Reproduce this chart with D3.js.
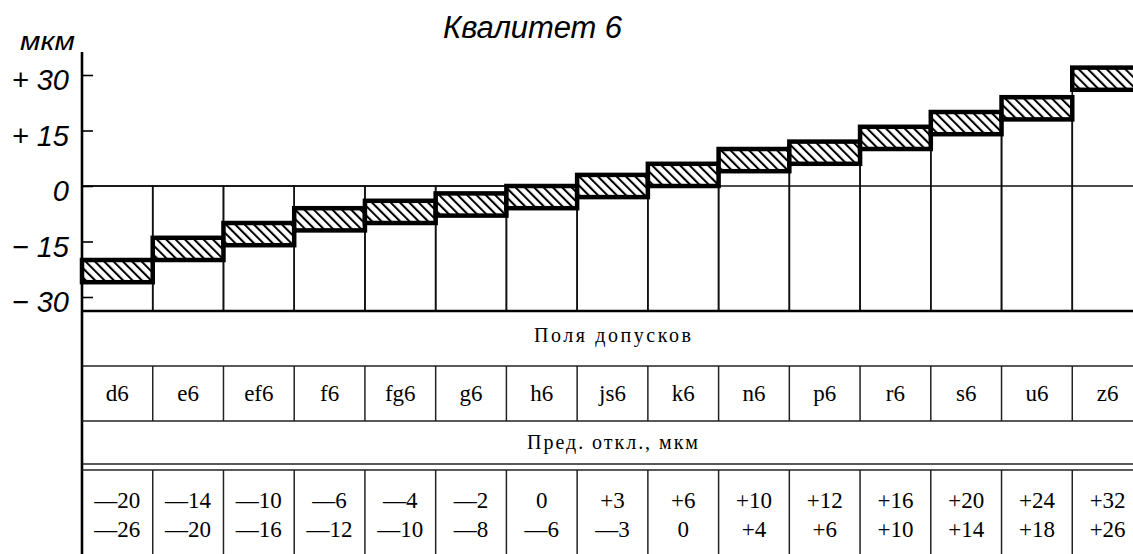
<!DOCTYPE html>
<html>
<head>
<meta charset="utf-8">
<script src="https://cdn.jsdelivr.net/npm/d3@7"></script>
<style>
  html, body { margin: 0; padding: 0; background: #fff; }
  svg { display: block; }
</style>
</head>
<body>
<svg id="chart" width="1133" height="554"></svg>
<script>
// ---------- data ----------
const categories = ["d6", "e6", "ef6", "f6", "fg6", "g6", "h6", "js6", "k6", "n6", "p6", "r6", "s6", "u6", "z6"];
const upperDev = [-20, -14, -10, -6, -4, -2, 0, 3, 6, 10, 12, 16, 20, 24, 32];
const lowerDev = [-26, -20, -16, -12, -10, -8, -6, -3, 0, 4, 6, 10, 14, 18, 26];
const yTicks = [-30, -15, 0, 15, 30];
const titleText = "Квалитет 6";
const unitText = "мкм";
const rowTitle1 = "Поля допусков";
const rowTitle2 = "Пред. откл., мкм";

// ---------- layout ----------
const W = 1133, H = 554;
const axisX = 82, axisTop = 52;
const chartBottom = 311;
const row1Bottom = 366, row2Bottom = 421, row3Bottom = 464, row3Double = 470;

const svg = d3.select("#chart");
svg.append("rect").attr("width", W).attr("height", H).attr("fill", "#fff");

const defs = svg.append("defs");
const pat = defs.append("pattern")
  .attr("id", "hatch")
  .attr("patternUnits", "userSpaceOnUse")
  .attr("width", 6.6).attr("height", 6.6)
  .attr("patternTransform", "rotate(-45)");
pat.append("rect").attr("width", 6.6).attr("height", 6.6).attr("fill", "#fff");
pat.append("line").attr("x1", 1).attr("y1", 0).attr("x2", 1).attr("y2", 6.6)
  .attr("stroke", "#000").attr("stroke-width", 2.1);

const x = d3.scaleBand().domain(categories).range([axisX, 1143]).paddingInner(0).paddingOuter(0);
const y = d3.scaleLinear().domain([-30, 30]).range([297, 75]);

const rows = categories.map((c, i) => ({ c, up: upperDev[i], lo: lowerDev[i] }));

// column thin frames (vertical lines under bars)
svg.append("g").selectAll("rect").data(rows).join("rect")
  .attr("x", d => x(d.c)).attr("width", x.bandwidth())
  .attr("y", d => y(Math.max(0, d.lo)))
  .attr("height", d => chartBottom - y(Math.max(0, d.lo)))
  .attr("fill", "none").attr("stroke", "#111").attr("stroke-width", 1.6);

// zero line
svg.append("line").attr("x1", axisX).attr("x2", W).attr("y1", y(0)).attr("y2", y(0))
  .attr("stroke", "#111").attr("stroke-width", 1.6);

// tolerance bars
svg.append("g").selectAll("rect").data(rows).join("rect")
  .attr("x", d => x(d.c)).attr("width", x.bandwidth())
  .attr("y", d => y(d.up)).attr("height", d => y(d.lo) - y(d.up))
  .attr("fill", "url(#hatch)").attr("stroke", "#000").attr("stroke-width", 4.5)
  .attr("stroke-linejoin", "miter");

// y axis
const fmtAxis = v => v > 0 ? "+ " + v : v < 0 ? "\u2212 " + Math.abs(v) : "0";
const axis = d3.axisLeft(y).tickValues(yTicks).tickSizeInner(-11).tickSizeOuter(0)
  .tickPadding(13).tickFormat(fmtAxis);
const gAxis = svg.append("g").attr("transform", `translate(${axisX},0)`).call(axis);
gAxis.select(".domain").remove();
gAxis.selectAll(".tick line").attr("stroke", "#000").attr("stroke-width", 1.6);
gAxis.selectAll(".tick text")
  .attr("fill", "#000")
  .attr("dy", "0.5em")
  .style("font-family", "'Liberation Sans', Arial, sans-serif")
  .style("font-style", "italic")
  .style("font-size", "29px");

svg.append("line").attr("x1", axisX).attr("x2", axisX).attr("y1", axisTop).attr("y2", H)
  .attr("stroke", "#000").attr("stroke-width", 2.6);

// unit label
svg.append("text").attr("x", 20).attr("y", 50).text(unitText)
  .attr("textLength", 55).attr("lengthAdjust", "spacingAndGlyphs")
  .style("font-family", "'Liberation Sans', Arial, sans-serif")
  .style("font-style", "italic").style("font-size", "26px");

// title
svg.append("text").attr("x", 443).attr("y", 38).text(titleText)
  .attr("textLength", 179).attr("lengthAdjust", "spacing")
  .style("font-family", "'Liberation Sans', Arial, sans-serif")
  .style("font-style", "italic").style("font-size", "31px");

// chart bottom line
svg.append("line").attr("x1", axisX).attr("x2", W).attr("y1", chartBottom).attr("y2", chartBottom)
  .attr("stroke", "#000").attr("stroke-width", 2.6);

// ---------- table ----------
const tl = svg.append("g").attr("stroke", "#222").attr("stroke-width", 1.5);
[row1Bottom, row2Bottom, row3Bottom, row3Double].forEach(yy => {
  tl.append("line").attr("x1", axisX).attr("x2", W).attr("y1", yy).attr("y2", yy);
});
// vertical separators
const seps = categories.slice(1);
tl.selectAll(".sepA").data(seps).join("line").attr("class", "sepA")
  .attr("x1", d => x(d)).attr("x2", d => x(d)).attr("y1", row1Bottom).attr("y2", row2Bottom);
tl.selectAll(".sepB").data(seps).join("line").attr("class", "sepB")
  .attr("x1", d => x(d)).attr("x2", d => x(d)).attr("y1", row3Double).attr("y2", H);

const serif = "'Liberation Serif', 'Times New Roman', serif";
const tableCenter = (axisX + 1143) / 2;
svg.append("text").attr("x", tableCenter).attr("y", 342).attr("text-anchor", "middle")
  .text(rowTitle1).attr("textLength", 157).attr("lengthAdjust", "spacing")
  .style("font-family", serif).style("font-size", "20px");
svg.append("text").attr("x", tableCenter).attr("y", 449).attr("text-anchor", "middle")
  .text(rowTitle2).attr("textLength", 171).attr("lengthAdjust", "spacing")
  .style("font-family", serif).style("font-size", "20px");

svg.append("g").selectAll("text").data(rows).join("text")
  .attr("x", d => x(d.c) + x.bandwidth() / 2).attr("y", 401)
  .attr("text-anchor", "middle").text(d => d.c)
  .style("font-family", serif).style("font-size", "23px");

const fmtVal = v => v > 0 ? "+" + v : v < 0 ? "\u2014" + Math.abs(v) : "0";
const gv = svg.append("g");
gv.selectAll(".up").data(rows).join("text").attr("class", "up")
  .attr("x", d => x(d.c) + x.bandwidth() / 2).attr("y", 508)
  .attr("text-anchor", "middle").text(d => fmtVal(d.up))
  .style("font-family", serif).style("font-size", "23px");
gv.selectAll(".lo").data(rows).join("text").attr("class", "lo")
  .attr("x", d => x(d.c) + x.bandwidth() / 2).attr("y", 537)
  .attr("text-anchor", "middle").text(d => fmtVal(d.lo))
  .style("font-family", serif).style("font-size", "23px");
</script>
</body>
</html>
